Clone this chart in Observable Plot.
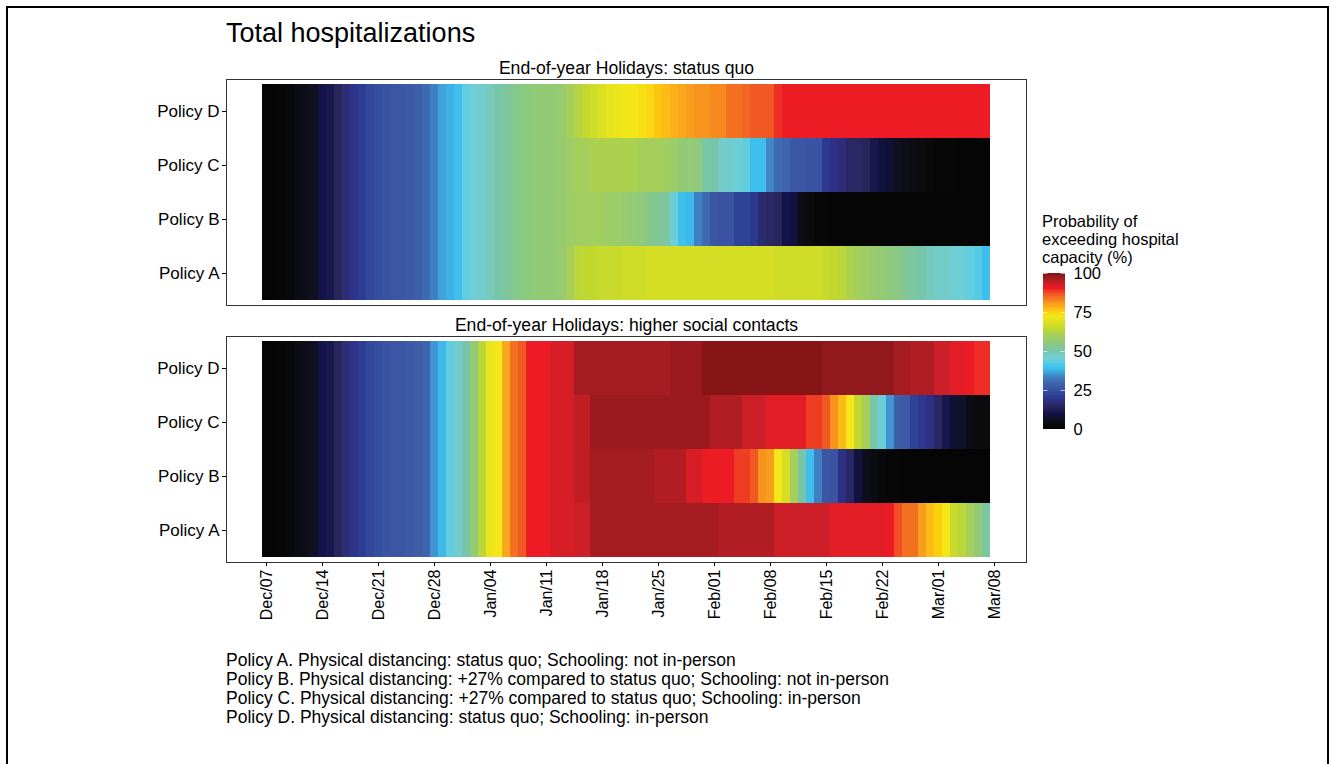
<!DOCTYPE html>
<html>
<head>
<meta charset="utf-8">
<script src="https://cdn.jsdelivr.net/npm/d3@7"></script>
<script src="https://cdn.jsdelivr.net/npm/@observablehq/plot@0.6"></script>
<style>
  html, body { margin: 0; padding: 0; background: #fff; }
  body { width: 1329px; height: 764px; position: relative; overflow: hidden;
         font-family: "Liberation Sans", Arial, Helvetica, sans-serif; color: #000; }
  #frame { position: absolute; left: 6px; top: 6px; width: 1319px; height: 900px;
           border: 2px solid #000; box-sizing: content-box; }
  #title { position: absolute; left: 226px; top: 20px; font-size: 27px; line-height: 27px; white-space: nowrap; }
  #chart { position: absolute; left: 0; top: 50px; }
  #legend-title { position: absolute; left: 1042px; top: 212px; font-size: 16.5px; line-height: 18px; white-space: nowrap; }
  #legend { position: absolute; left: 1043px; top: 266px; }
  #caption { position: absolute; left: 226px; top: 651px; font-size: 17.5px; line-height: 19px; white-space: nowrap; }
  #chart svg [aria-label^="y-axis"] text { font-size: 17px; }
  #chart svg [aria-label^="x-axis"] text { font-size: 16px; }
  #legend svg [aria-label^="y-axis"] text { font-size: 16.5px; }
</style>
</head>
<body>
<div id="frame"></div>
<div id="title"></div>
<div id="chart"></div>
<div id="legend-title"></div>
<div id="legend"></div>
<div id="caption"></div>
<script>
// ---------------- data ----------------
const chartTitle = "Total hospitalizations";
const scenarios = ["End-of-year Holidays: status quo", "End-of-year Holidays: higher social contacts"];
const policies = ["Policy D", "Policy C", "Policy B", "Policy A"];
const firstDay = "2020-12-07";
const xDomain = ["2020-12-02", "2021-03-12"];
const tickDates = ["2020-12-07", "2020-12-14", "2020-12-21", "2020-12-28", "2021-01-04", "2021-01-11",
  "2021-01-18", "2021-01-25", "2021-02-01", "2021-02-08", "2021-02-15", "2021-02-22", "2021-03-01", "2021-03-08"];

// daily probability (%) of exceeding hospital capacity, Dec 07 .. Mar 07
const statusQuoA = [
  0, 0, 1, 2, 4, 5, 6,
  10, 11, 14, 17, 19, 21, 23,
  24, 25, 26, 26, 27, 28, 30,
  33, 36, 37, 39, 43, 45, 46,
  48, 50, 51, 53, 54, 55, 56,
  56, 56, 57, 60, 63, 64, 64,
  65, 65, 65, 66, 66, 66, 67,
  67, 67, 67, 67, 67, 67, 67,
  67, 67, 67, 67, 67, 67, 67,
  67, 66, 66, 66, 66, 66, 66,
  65, 64, 63, 61, 60, 58, 57,
  56, 55, 54, 52, 51, 50, 48,
  47, 47, 45, 44, 43, 42, 39];
const statusQuoB = [
  0, 0, 1, 2, 4, 5, 6,
  10, 11, 14, 17, 19, 21, 23,
  24, 25, 26, 26, 27, 28, 30,
  33, 36, 37, 39, 43, 45, 46,
  48, 50, 51, 53, 54, 55, 56,
  56, 56, 57, 58, 59, 59, 59,
  59, 58, 58, 57, 56, 55, 53,
  52, 51, 44, 39, 38, 33, 30,
  26, 25, 25, 22, 22, 20, 16,
  15, 14, 10, 9, 4, 3, 1,
  1, 0, 0, 0, 0, 0, 0,
  0, 0, 0, 0, 0, 0, 0,
  0, 0, 0, 0, 0, 0, 0];
const statusQuoC = [
  0, 0, 1, 2, 4, 5, 6,
  10, 11, 14, 17, 19, 21, 23,
  24, 25, 26, 26, 27, 28, 30,
  33, 36, 37, 39, 43, 45, 46,
  48, 50, 51, 53, 54, 55, 56,
  56, 56, 57, 58, 60, 60, 61,
  61, 61, 61, 61, 61, 60, 60,
  60, 59, 58, 56, 56, 55, 50,
  50, 47, 46, 44, 43, 39, 39,
  34, 30, 29, 26, 26, 25, 25,
  20, 18, 17, 15, 15, 14, 11,
  9, 8, 6, 5, 4, 3, 2,
  1, 1, 1, 0, 0, 0, 0];
const statusQuoD = [
  0, 0, 1, 2, 4, 5, 6,
  10, 11, 14, 17, 19, 21, 23,
  24, 25, 26, 26, 27, 28, 30,
  33, 36, 37, 39, 43, 45, 46,
  48, 50, 51, 53, 54, 55, 56,
  56, 56, 57, 60, 62, 64, 66,
  68, 70, 71, 72, 72, 73, 74,
  76, 77, 78, 79, 80, 81, 81,
  82, 82, 84, 84, 85, 86, 86,
  86, 89, 90, 90, 90, 90, 90,
  90, 90, 90, 90, 90, 90, 90,
  90, 90, 90, 90, 90, 90, 90,
  90, 90, 90, 90, 90, 90, 90];
const higherA = [
  0, 0, 1, 2, 4, 5, 6,
  10, 11, 14, 17, 19, 21, 23,
  24, 25, 26, 26, 27, 28, 29,
  35, 38, 43, 46, 50, 56, 63,
  71, 72, 79, 84, 86, 90, 90,
  90, 92, 92, 92, 93, 93, 96,
  96, 96, 96, 96, 96, 96, 96,
  96, 96, 96, 96, 96, 96, 96,
  96, 95, 95, 95, 95, 95, 95,
  95, 93, 93, 93, 93, 93, 93,
  93, 91, 91, 91, 91, 91, 91,
  91, 90, 87, 84, 84, 80, 77,
  75, 72, 65, 63, 60, 56, 51];
const higherB = [
  0, 0, 1, 2, 4, 5, 6,
  10, 11, 14, 17, 19, 21, 23,
  24, 25, 26, 26, 27, 28, 29,
  35, 38, 43, 46, 50, 56, 63,
  71, 72, 79, 84, 86, 90, 90,
  90, 92, 92, 92, 94, 94, 96,
  96, 96, 96, 96, 96, 96, 96,
  95, 95, 95, 95, 92, 92, 90,
  90, 90, 90, 88, 88, 86, 81,
  80, 72, 67, 60, 50, 39, 33,
  26, 25, 18, 15, 9, 5, 4,
  2, 1, 1, 0, 0, 0, 0,
  0, 0, 0, 0, 0, 0, 0];
const higherC = [
  0, 0, 1, 2, 4, 5, 6,
  10, 11, 14, 17, 19, 21, 23,
  24, 25, 26, 26, 27, 28, 29,
  35, 38, 43, 46, 50, 56, 63,
  71, 72, 79, 84, 86, 90, 90,
  90, 92, 92, 92, 94, 94, 97,
  97, 97, 97, 97, 97, 97, 97,
  97, 97, 97, 97, 97, 97, 97,
  95, 95, 95, 95, 93, 93, 93,
  91, 91, 91, 91, 91, 88, 88,
  86, 81, 77, 72, 64, 60, 50,
  44, 35, 28, 27, 22, 20, 18,
  15, 11, 8, 7, 4, 3, 3];
const higherD = [
  0, 0, 1, 2, 4, 5, 6,
  10, 11, 14, 17, 19, 21, 23,
  24, 25, 26, 26, 27, 28, 29,
  35, 38, 43, 46, 50, 56, 63,
  71, 72, 79, 84, 86, 90, 90,
  90, 92, 92, 92, 96, 96, 96,
  96, 96, 96, 96, 96, 96, 96,
  96, 96, 97, 97, 97, 97, 99,
  99, 99, 99, 99, 99, 99, 99,
  99, 99, 99, 99, 99, 99, 99,
  98, 98, 98, 98, 98, 98, 98,
  98, 98, 96, 96, 95, 95, 95,
  93, 93, 91, 91, 90, 89, 89];

const legendTitleLines = ["Probability of", "exceeding hospital", "capacity (%)"];
const legendTicks = [0, 25, 50, 75, 100];
const captionLines = [
  "Policy A. Physical distancing: status quo; Schooling: not in-person",
  "Policy B. Physical distancing: +27% compared to status quo; Schooling: not in-person",
  "Policy C. Physical distancing: +27% compared to status quo; Schooling: in-person",
  "Policy D. Physical distancing: status quo; Schooling: in-person"
];

// colour ramp (value -> colour)
const colorStops = [0, 3, 6, 10, 14, 18, 21, 25, 28, 31, 34, 37, 40, 44, 47, 50, 55, 60, 64, 68, 72, 75, 78, 81, 84, 87, 90, 93, 96, 100];
const colorRange = ["#050505", "#0b0b0e", "#0f1020", "#13124a", "#282559", "#2e3085", "#2b3d93", "#3a53a2",
  "#3e5ea8", "#3e70b6", "#4088c8", "#3eb0e3", "#3ec7f2", "#6ccfd8", "#74ccc8", "#78c6a8", "#8ec97c",
  "#a5cf5a", "#c2d82e", "#dbe021", "#f3e619", "#fdd00c", "#fbb01a", "#f7941d", "#f37021", "#f04e23",
  "#ed1c24", "#cc1f27", "#a51c22", "#7d1315"];

// ---------------- build table ----------------
const DAY = 864e5;
const t0 = new Date(firstDay + "T00:00:00Z").getTime();
const seriesByScenario = [
  {"Policy A": statusQuoA, "Policy B": statusQuoB, "Policy C": statusQuoC, "Policy D": statusQuoD},
  {"Policy A": higherA, "Policy B": higherB, "Policy C": higherC, "Policy D": higherD}
];
const records = [];
scenarios.forEach((scenario, si) => {
  policies.forEach(policy => {
    seriesByScenario[si][policy].forEach((value, i) => {
      const day = t0 + i * DAY;
      records.push({scenario, policy, value, start: new Date(day - DAY / 2), end: new Date(day + DAY / 2)});
    });
  });
});

const colorScale = {type: "linear", domain: colorStops, range: colorRange, clamp: true};
const parseDate = s => new Date(s + "T00:00:00Z");

document.getElementById("title").textContent = chartTitle;

const chart = Plot.plot({
  width: 1040,
  height: 583,
  marginLeft: 226,
  marginRight: 14,
  marginTop: 29,
  marginBottom: 70,
  style: {fontFamily: "'Liberation Sans', Arial, sans-serif", fontSize: "15px", color: "#000", background: "transparent", overflow: "visible"},
  facet: {data: records, y: "scenario"},
  fy: {domain: scenarios, axis: null, paddingInner: 0.12, paddingOuter: 0},
  y: {domain: policies, paddingInner: 0, paddingOuter: 0.09, tickSize: 4, tickPadding: 3, label: null},
  x: {type: "utc", domain: xDomain.map(parseDate), ticks: tickDates.map(parseDate),
      tickFormat: d3.utcFormat("%b/%d"), tickRotate: -90, tickSize: 4, tickPadding: 3, label: null},
  color: colorScale,
  marks: [
    Plot.barX(records, {x1: "start", x2: "end", y: "policy", fill: "value", shapeRendering: "crispEdges"}),
    Plot.frame({stroke: "#333", strokeWidth: 1}),
    Plot.text(records, Plot.selectFirst({text: "scenario", frameAnchor: "top", lineAnchor: "middle", dy: -11, fontSize: 17.6, fill: "#000"}))
  ]
});
document.getElementById("chart").appendChild(chart);

// legend
document.getElementById("legend-title").innerHTML = legendTitleLines.join("<br>");
const legendSteps = d3.range(0, 100, 0.5);
const legend = Plot.plot({
  width: 90,
  height: 170,
  marginLeft: 0,
  marginRight: 68,
  marginTop: 7,
  marginBottom: 7,
  style: {fontFamily: "'Liberation Sans', Arial, sans-serif", fontSize: "16.5px", color: "#000", background: "transparent", overflow: "visible"},
  x: {domain: [0, 1], axis: null},
  y: {domain: [0, 100], ticks: legendTicks, tickSize: 0, tickPadding: 8, label: null, axis: "right"},
  color: colorScale,
  marks: [
    Plot.rect(legendSteps, {x1: 0, x2: 1, y1: d => d, y2: d => d + 0.5, fill: d => d, shapeRendering: "crispEdges"}),
    Plot.ruleY(legendTicks, {x1: 0, x2: 0.2, stroke: "white", strokeOpacity: 0.6}),
    Plot.ruleY(legendTicks, {x1: 0.8, x2: 1, stroke: "white", strokeOpacity: 0.6})
  ]
});
document.getElementById("legend").appendChild(legend);

document.getElementById("caption").innerHTML = captionLines.map(l => `<div>${l}</div>`).join("");
</script>
</body>
</html>
